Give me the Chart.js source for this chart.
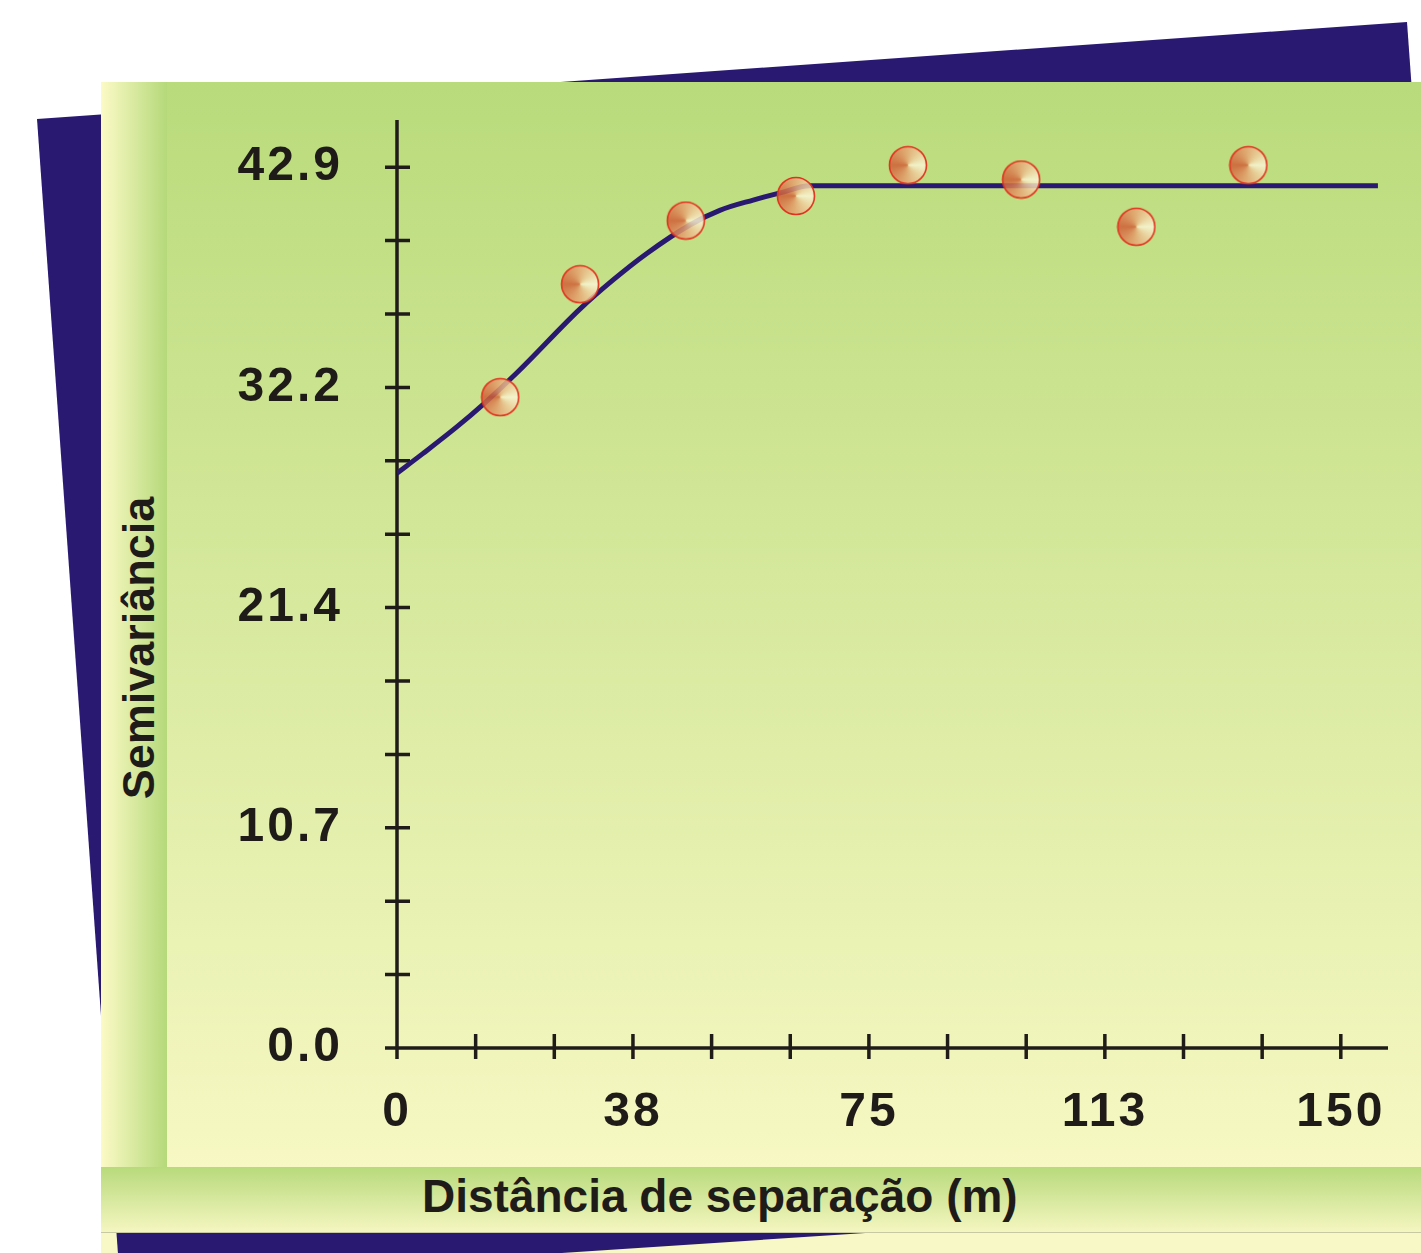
<!DOCTYPE html>
<html>
<head>
<meta charset="utf-8">
<script src="https://cdn.jsdelivr.net/npm/chart.js@4.4.1/dist/chart.umd.min.js"></script>
<style>
  body { margin: 0; background: #fff; width: 1421px; height: 1253px; overflow: hidden; position: relative; }
  .layer { position: absolute; }
  #lowerPage { left: 101px; top: 1233px; width: 1320px; height: 20px; background: #f8f8c6; }
  #backSheet { left: 0; top: 0; }
  #panel { left: 101px; top: 82px; width: 1320px; height: 1085px; background: linear-gradient(to bottom, #b9db7b, #f7f8c3); }
  #sideStrip { left: 101px; top: 82px; width: 66px; height: 1085px; background: linear-gradient(to right, #fcfac6, #b5d97a); }
  #bottomStrip { left: 101px; top: 1167px; width: 1320px; height: 66px; background: linear-gradient(to bottom, #b8da7c, #f5f6c0); border-bottom: 1px solid #c8c9a2; box-sizing: border-box; }
  .axisTitle { font: bold 46px "Liberation Sans", Arial, sans-serif; line-height: 46px; color: #1f1b18; white-space: nowrap; }
  #xTitle { left: 422px; top: 1173px; }
  #yTitle { left: -61px; top: 625px; width: 400px; text-align: center; font-size: 45px; transform: rotate(-90deg); }
  #chart { position: absolute; left: 0; top: 0; }
</style>
</head>
<body>
<div class="layer" id="lowerPage"></div>
<svg class="layer" id="backSheet" width="1421" height="1253">
  <polygon points="37,119 1407,22 1491,1192 120,1282" fill="#2a1970"/>
</svg>
<div class="layer" id="panel"></div>
<div class="layer" id="sideStrip"></div>
<div class="layer" id="bottomStrip"></div>
<div class="layer axisTitle" id="xTitle">Distância de separação (m)</div>
<div class="layer axisTitle" id="yTitle">Semivariância</div>
<canvas id="chart" width="1421" height="1253"></canvas>
<script>
// experimental semivariogram
const distances = [16.4, 29.1, 45.9, 63.4, 81.2, 99.2, 117.5, 135.3];
const semivariances = [31.7, 37.2, 40.3, 41.5, 43.0, 42.3, 40.0, 43.0];

// fitted model curve
const modelDistances = [0, 4.1, 9.5, 13.7, 19.1, 29.1, 34.3, 39.7, 46.6, 51.3, 56.6, 60.9, 65.6, 155.9];
const modelValues = [28.0, 28.95, 30.25, 31.35, 32.9, 36.0, 37.4, 38.7, 40.1, 40.8, 41.3, 41.65, 42.0, 42.0];

// ticks: every third one carries a label
const xTickValues = [0, 12.5, 25, 37.5, 50, 62.5, 75, 87.5, 100, 112.5, 125, 137.5, 150];
const xTickLabels = ['0', '38', '75', '113', '150'];
const yTickValues = [0, 3.575, 7.15, 10.725, 14.3, 17.875, 21.45, 25.025, 28.6, 32.175, 35.75, 39.325, 42.9];
const yTickLabels = ['0.0', '10.7', '21.4', '32.2', '42.9'];

const INK = '#1f1b18';
const tickFont = { family: '"Liberation Sans", Arial, sans-serif', weight: 'bold', size: 48 };

// shaded bead used as the point marker
function makeBead() {
    const c = document.createElement('canvas');
    c.width = 40; c.height = 40;
    const g = c.getContext('2d');
    const grad = g.createConicGradient(0, 20, 20);
    grad.addColorStop(0, '#fbf6d6');
    grad.addColorStop(0.12, '#f0d0a0');
    grad.addColorStop(0.3, '#e39a68');
    grad.addColorStop(0.5, '#d05e36');
    grad.addColorStop(0.7, '#e39a68');
    grad.addColorStop(0.88, '#f0d0a0');
    grad.addColorStop(1, '#fbf6d6');
    g.globalAlpha = 0.85;
    g.beginPath();
    g.arc(20, 20, 18.5, 0, Math.PI * 2);
    g.fillStyle = grad;
    g.fill();
    g.globalAlpha = 1;
    g.lineWidth = 1.6;
    g.strokeStyle = '#e0321f';
    g.stroke();
    return c;
}

// wider tracking for the tick numbers
const tracking = {
    id: 'tracking',
    beforeDraw(chart) { chart.ctx.letterSpacing = '3px'; }
};

// axes with ticks crossing the axis line
const crossAxes = {
    id: 'crossAxes',
    beforeDatasetsDraw(chart) {
        const { ctx, scales: { x, y } } = chart;
        const x0 = x.getPixelForValue(0);
        const y0 = y.getPixelForValue(0);
        ctx.save();
        ctx.strokeStyle = INK;
        ctx.lineWidth = 3.5;
        ctx.beginPath();
        ctx.moveTo(x0, y.top);
        ctx.lineTo(x0, y0 + 11);
        ctx.moveTo(x0 - 10, y0);
        ctx.lineTo(x.right, y0);
        y.ticks.forEach(t => {
            const py = y.getPixelForValue(t.value);
            ctx.moveTo(x0 - 12, py);
            ctx.lineTo(x0 + 13, py);
        });
        x.ticks.forEach(t => {
            const px = x.getPixelForValue(t.value);
            ctx.moveTo(px, y0 - 14);
            ctx.lineTo(px, y0 + 11);
        });
        ctx.stroke();
        ctx.restore();
    }
};

const bead = makeBead();

new Chart(document.getElementById('chart'), {
    type: 'scatter',
    data: {
        datasets: [
            {
                label: 'Semivariância experimental',
                data: distances.map((d, i) => ({ x: d, y: semivariances[i] })),
                pointStyle: bead,
                pointRadius: 18,
                showLine: false
            },
            {
                label: 'Modelo',
                data: modelDistances.map((d, i) => ({ x: d, y: modelValues[i] })),
                showLine: true,
                borderColor: '#2a1970',
                borderWidth: 5,
                pointRadius: 0,
                cubicInterpolationMode: 'monotone'
            }
        ]
    },
    options: {
        responsive: false,
        devicePixelRatio: 1,
        animation: false,
        layout: { padding: { top: 120, right: 33, left: 0, bottom: 0 } },
        plugins: { legend: { display: false }, tooltip: { enabled: false } },
        scales: {
            x: {
                type: 'linear',
                min: 0,
                max: 157.5,
                afterBuildTicks: s => { s.ticks = xTickValues.map(v => ({ value: v })); },
                afterFit: s => { s.height = 205; },
                grid: { display: false, drawTicks: false },
                border: { display: false },
                ticks: {
                    autoSkip: false,
                    maxRotation: 0,
                    padding: 36,
                    color: INK,
                    font: tickFont,
                    callback: (v, i) => i % 3 === 0 ? xTickLabels[i / 3] : ''
                }
            },
            y: {
                type: 'linear',
                min: 0,
                max: 45.2,
                afterBuildTicks: s => { s.ticks = yTickValues.map(v => ({ value: v })); },
                afterFit: s => { s.width = 397; },
                grid: { display: false, drawTicks: false },
                border: { display: false },
                ticks: {
                    autoSkip: false,
                    padding: 54,
                    color: INK,
                    font: tickFont,
                    callback: (v, i) => i % 3 === 0 ? yTickLabels[i / 3] : ''
                }
            }
        }
    },
    plugins: [tracking, crossAxes]
});
</script>
</body>
</html>
